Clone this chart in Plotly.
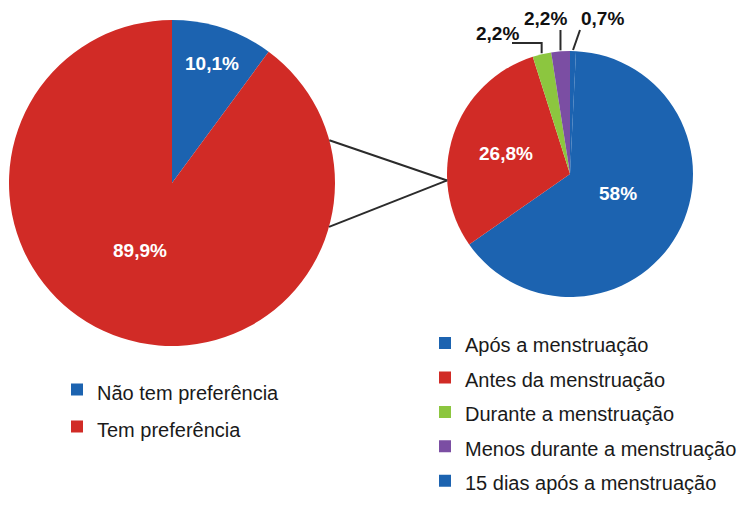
import math
import plotly.graph_objects as go

# page body adds an 8px margin; figure sized to fit the 750x516 window
OFF = 8
W, H = 742, 508
FONT = "Liberation Sans"

# ---- data ----
overall_labels = ["Não tem preferência", "Tem preferência"]
overall_values = [10.1, 89.9]
overall_colors = ["#1c63b0", "#d12b26"]

timing_labels = ["Após a menstruação", "Antes da menstruação", "Durante a menstruação",
                 "Menos durante a menstruação", "15 dias após a menstruação"]
timing_values = [58, 26.8, 2.2, 2.2, 0.7]
timing_colors = ["#1c63b0", "#d12b26", "#8cc63f", "#7b4ea3", "#1c63b0"]

# ---- geometry (screen pixels) ----
L_CX, L_CY, L_R = 172, 183, 163
R_CX, R_CY, R_R = 570, 174, 123

# label centres (screen pixels)
overall_label_pos = [(212, 63), (140, 250)]
timing_label_pos = [(618, 193), (506, 154), (497, 33), (545, 19), (602, 19)]
timing_label_inside = [True, True, False, False, False]


def px(x):
    return (x - OFF) / W


def py(y):
    return 1 - (y - OFF) / H


def fmt(v):
    return f"{v:g}".replace(".", ",") + "%"


def dom(cx, cy, r):
    return dict(x=[px(cx - r), px(cx + r)], y=[py(cy + r), py(cy - r)])


def legend_label(t):
    return f'<span style="font-size:20px">{t}</span>'


fig = go.Figure()

fig.add_trace(go.Pie(
    labels=[legend_label(l) for l in overall_labels],
    values=overall_values,
    marker=dict(colors=overall_colors, line=dict(width=0)),
    sort=False, direction="clockwise", rotation=0,
    textinfo="none",
    domain=dom(L_CX, L_CY, L_R), legend="legend", hoverinfo="label+percent",
))

total_t = sum(timing_values)
rot = timing_values[-1] / total_t * 360
fig.add_trace(go.Pie(
    labels=[legend_label(l) for l in timing_labels],
    values=timing_values,
    marker=dict(colors=timing_colors, line=dict(width=0)),
    sort=False, direction="clockwise", rotation=rot,
    textinfo="none",
    domain=dom(R_CX, R_CY, R_R), legend="legend2", hoverinfo="label+value",
))

# slice mid-angles on right pie (clockwise from 12 o'clock)
mids = []
a = rot
for v in timing_values:
    span = v / total_t * 360
    mids.append((a + span / 2) % 360)
    a += span


def edge(cx, cy, r, ang):
    t = math.radians(ang)
    return cx + r * math.sin(t), cy - r * math.cos(t)


shapes = []
line_style = dict(color="#2b2b2b", width=2)
# connector lines between the pies
tip = edge(R_CX, R_CY, R_R, 267)
for ang in (74.8, 105.6):
    sx, sy = edge(L_CX, L_CY, L_R, ang)
    shapes.append(dict(type="line", xref="paper", yref="paper",
                       x0=px(sx), y0=py(sy), x1=px(tip[0]), y1=py(tip[1]), line=line_style))

annotations = []
in_font = dict(family=FONT, size=19, color="white", weight="bold")
out_font = dict(family=FONT, size=19, color="#111111", weight="bold")


def add_label(pos, v, font):
    annotations.append(dict(x=px(pos[0]), y=py(pos[1]), xref="paper", yref="paper",
                            xanchor="center", yanchor="middle", borderpad=0,
                            text=fmt(v), showarrow=False, font=font))


for pos, v in zip(overall_label_pos, overall_values):
    add_label(pos, v, in_font)
for pos, v, ins in zip(timing_label_pos, timing_values, timing_label_inside):
    add_label(pos, v, in_font if ins else out_font)

# leader lines for the thin slices: (end point, elbow?)
leaders = {2: ((512, 43), True), 3: ((None, 30), False), 4: ((580, 30), False)}
for i, ((ex, ey), elbow) in leaders.items():
    sx, sy = edge(R_CX, R_CY, R_R + 1, mids[i])
    if elbow:
        path = f"M {px(sx)},{py(sy)} L {px(sx)},{py(ey)} L {px(ex)},{py(ey)}"
        shapes.append(dict(type="path", xref="paper", yref="paper", path=path, line=line_style))
    else:
        x_end = sx if ex is None else ex
        shapes.append(dict(type="line", xref="paper", yref="paper",
                           x0=px(sx), y0=py(sy), x1=px(x_end), y1=py(ey), line=line_style))

leg_common = dict(xanchor="left", yanchor="top", bgcolor="rgba(0,0,0,0)",
                  borderwidth=0, traceorder="normal", itemclick=False, itemdoubleclick=False)
fig.update_layout(
    width=W, height=H,
    margin=dict(l=0, r=0, t=0, b=0, autoexpand=False),
    paper_bgcolor="white", plot_bgcolor="white",
    font=dict(family=FONT, color="#1a1a1a"),
    shapes=shapes, annotations=annotations,
    legend=dict(x=px(57), y=py(366), font=dict(family=FONT, size=26.15, color="#1a1a1a"), **leg_common),
    legend2=dict(x=px(425), y=py(320.75), font=dict(family=FONT, size=24.2, color="#1a1a1a"), **leg_common),
    showlegend=True,
)

fig.write_html("out.html")
